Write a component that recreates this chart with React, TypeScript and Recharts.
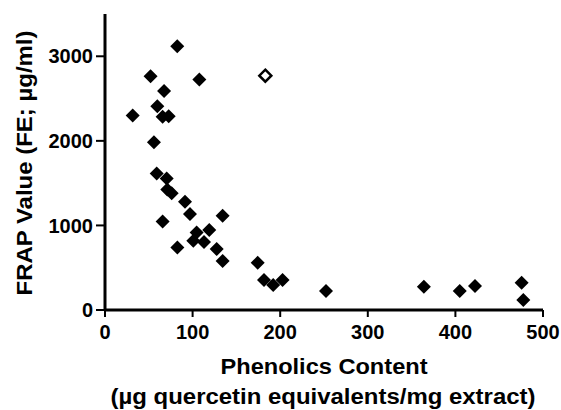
import React from 'react';
import { ScatterChart, Scatter, XAxis, YAxis, Label } from 'recharts';

// phenolics content (µg quercetin eq / mg extract) vs FRAP value
const phenolics = [
  31.6, 52, 82.5, 107.7, 67.4, 59.7, 65.8, 72.7, 55.9, 59, 70.4, 71.1, 76.1, 91.3, 97, 65.8,
  134.3, 104.6, 119, 100.8, 113, 82.6, 127.5, 134.3, 174.3, 181.5, 192, 202.7, 252.3, 364,
  405, 422.4, 475.6, 477.5,
];
const frap = [
  2300, 2765, 3120, 2725, 2590, 2410, 2285, 2290, 1985, 1615, 1555, 1425, 1380, 1280, 1135, 1045,
  1115, 915, 945, 820, 805, 740, 720, 580, 558, 354, 295, 354, 224, 275,
  224, 283, 322, 118,
];
// highlighted (open) sample
const openPhenolics = [183];
const openFrap = [2770];

const xTicks = [0, 100, 200, 300, 400, 500];
const yTicks = [0, 1000, 2000, 3000];

const filled = phenolics.map((x, i) => ({ x, y: frap[i] }));
const open = openPhenolics.map((x, i) => ({ x, y: openFrap[i] }));

const FONT = '"Liberation Sans", Arial, sans-serif';

const Diamond = (props: any) => {
  const { cx, cy, hollow } = props;
  const r = hollow ? 6 : 7;
  const d = `M${cx},${cy - r} L${cx + r},${cy} L${cx},${cy + r} L${cx - r},${cy} Z`;
  return hollow ? (
    <path d={d} fill="#fff" stroke="#000" strokeWidth={2.5} />
  ) : (
    <path d={d} fill="#000" />
  );
};

const XTitle = (props: any) => {
  const { viewBox } = props;
  const cx = viewBox.x + viewBox.width / 2;
  return (
    <g fontFamily={FONT} fontWeight="bold" fill="#000" textAnchor="middle" fontSize={22}>
      <text x={cx} y={374} textLength={207} lengthAdjust="spacingAndGlyphs">
        Phenolics Content
      </text>
      <text x={cx - 1} y={404} textLength={425} lengthAdjust="spacingAndGlyphs">
        (µg quercetin equivalents/mg extract)
      </text>
    </g>
  );
};

const YTitle = (props: any) => {
  const { viewBox } = props;
  const cy = viewBox.y + viewBox.height / 2 + 1;
  return (
    <text
      x={32}
      y={cy}
      transform={`rotate(-90, 32, ${cy})`}
      textAnchor="middle"
      fontFamily={FONT}
      fontWeight="bold"
      fontSize={22}
      fill="#000"
      textLength={265}
      lengthAdjust="spacingAndGlyphs"
    >
      FRAP Value (FE; µg/ml)
    </text>
  );
};

export default function App() {
  const tickStyle = { fontFamily: FONT, fontWeight: 'bold', fontSize: 20, fill: '#000' };
  return (
    <div style={{ position: 'absolute', left: 0, top: 0, width: 561, height: 410, background: '#fff' }}>
      <ScatterChart width={561} height={410} margin={{ top: 14, right: 18, left: 25, bottom: 0 }}>
        <XAxis
          type="number"
          dataKey="x"
          domain={[0, 500]}
          ticks={xTicks}
          height={100}
          stroke="#000"
          axisLine={{ stroke: '#000', strokeWidth: 3 }}
          tickLine={{ stroke: '#000', strokeWidth: 2 }}
          tickSize={7}
          tickMargin={8}
          tick={tickStyle}
          interval={0}
        >
          <Label content={<XTitle />} />
        </XAxis>
        <YAxis
          type="number"
          dataKey="y"
          domain={[0, 3500]}
          ticks={yTicks}
          width={80}
          stroke="#000"
          axisLine={{ stroke: '#000', strokeWidth: 3 }}
          tickLine={{ stroke: '#000', strokeWidth: 2 }}
          tickSize={9}
          tickMargin={3}
          tick={tickStyle}
          interval={0}
        >
          <Label content={<YTitle />} />
        </YAxis>
        <Scatter data={filled} shape={<Diamond />} isAnimationActive={false} />
        <Scatter data={open} shape={<Diamond hollow />} isAnimationActive={false} />
      </ScatterChart>
    </div>
  );
}
